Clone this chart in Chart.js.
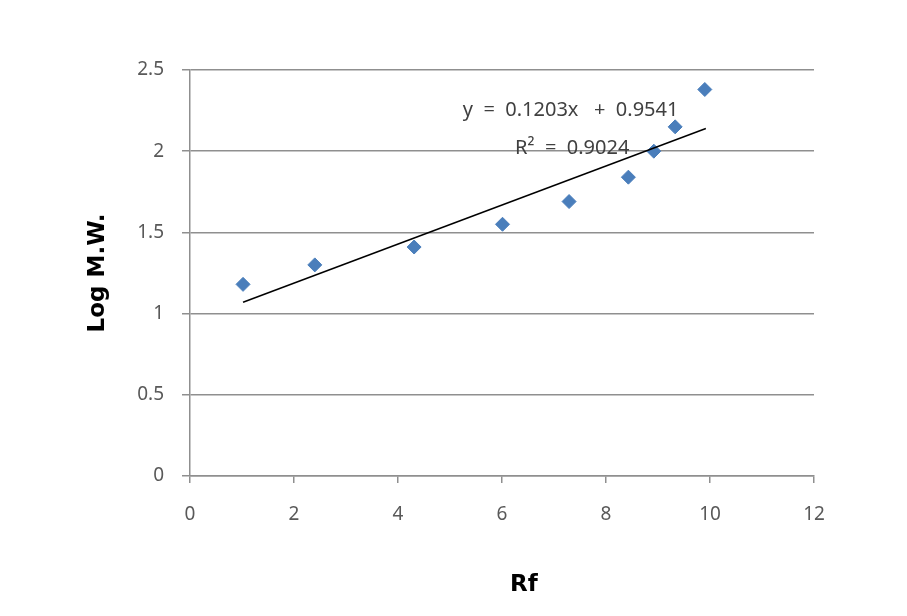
<!DOCTYPE html>
<html>
<head>
<meta charset="utf-8">
<script src="https://cdn.jsdelivr.net/npm/chart.js@4"></script>
<style>
  html, body { margin: 0; padding: 0; background: #fff; }
  #wrap { width: 907px; height: 616px; }
</style>
</head>
<body>
<div id="wrap"><canvas id="chart" width="907" height="616"></canvas></div>
<script>
// values
const rfValues = [1.02, 2.40, 4.31, 6.01, 7.29, 8.43, 8.92, 9.33, 9.90];
const logMw = [1.18, 1.30, 1.41, 1.55, 1.69, 1.84, 2.00, 2.15, 2.38];

// trendline end points as drawn in the picture
const trendRf = [1.02, 9.92];
const trendLogMw = [1.07, 2.14];

const equationText = 'y  =  0.1203x   +  0.9541';
const rSquaredText = 'R²  =  0.9024';
const xTitle = 'Rf';
const yTitle = 'Log M.W.';

const gridGray = '#8f8f8f';
const tickFont = { family: '"Noto Sans", sans-serif', size: 19 };
const titleFont = { family: '"DejaVu Sans", sans-serif', size: 23, weight: 'bold' };

// draws the trendline equation, R² and the x title
const textLabels = {
  id: 'textLabels',
  afterDraw(chart) {
    const { ctx, scales: { x, y } } = chart;
    ctx.save();
    ctx.textAlign = 'center';
    ctx.textBaseline = 'middle';
    ctx.fillStyle = '#404040';
    ctx.font = '20px "Noto Sans", sans-serif';
    ctx.fillText(equationText, x.getPixelForValue(7.32), y.getPixelForValue(2.25));
    ctx.fillText(rSquaredText, x.getPixelForValue(7.35), y.getPixelForValue(2.02));

    ctx.fillStyle = '#000';
    ctx.font = 'bold 23px "DejaVu Sans", sans-serif';
    ctx.fillText(xTitle, x.getPixelForValue(6.42), 585);
    ctx.restore();
  },
};

const points = rfValues.map((rf, i) => ({ x: rf, y: logMw[i] }));
const trend = trendRf.map((rf, i) => ({ x: rf, y: trendLogMw[i] }));

// eslint-disable-next-line no-undef
new Chart(document.getElementById('chart'), {
  type: 'scatter',
  data: {
    datasets: [
      {
        label: 'Log M.W.',
        data: points,
        pointStyle: 'rectRot',
        pointRadius: 7,
        pointBackgroundColor: '#4a7ebb',
        pointBorderColor: '#4a7ebb',
        pointBorderWidth: 1,
        order: 1,
      },
      {
        type: 'line',
        label: 'Linear',
        data: trend,
        borderColor: '#000',
        borderWidth: 1.5,
        pointRadius: 0,
        showLine: true,
        fill: false,
        order: 0,
      },
    ],
  },
  options: {
    responsive: false,
    animation: false,
    layout: {
      padding: { left: 80, top: 70, right: 93, bottom: 15 },
    },
    plugins: {
      legend: { display: false },
      tooltip: { enabled: false },
    },
    scales: {
      x: {
        type: 'linear',
        min: 0,
        max: 12,
        afterFit: (scale) => { scale.height = 125; },
        grid: {
          drawOnChartArea: false,
          tickColor: gridGray,
          tickLength: 7,
          lineWidth: 1.5,
        },
        border: { color: gridGray, width: 1.5 },
        ticks: {
          stepSize: 2,
          padding: 20,
          color: '#595959',
          font: tickFont,
        },
      },
      y: {
        type: 'linear',
        min: 0,
        max: 2.5,
        afterFit: (scale) => { scale.width = 110; },
        grid: {
          color: gridGray,
          tickColor: gridGray,
          tickLength: 8,
          lineWidth: 1.5,
        },
        border: { color: gridGray, width: 1.5 },
        ticks: {
          stepSize: 0.5,
          padding: 18,
          color: '#595959',
          font: tickFont,
          callback: (v) => String(v),
        },
        title: {
          display: true,
          text: yTitle,
          color: '#000',
          font: titleFont,
        },
      },
    },
  },
  plugins: [textLabels],
});
</script>
</body>
</html>
